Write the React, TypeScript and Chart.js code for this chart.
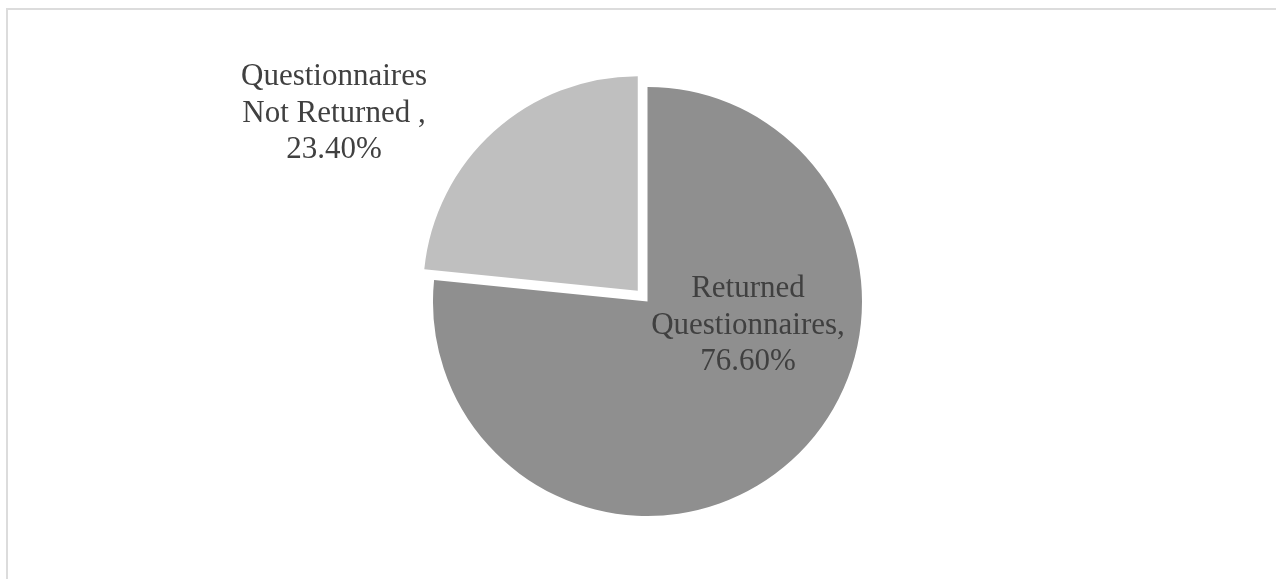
import React, { useEffect, useRef } from "react";
import { Chart, registerables } from "chart.js";

Chart.register(...registerables);

const categories = ["Returned Questionnaires", "Questionnaires Not Returned"];
const values = [76.6, 23.4];
const colors = ["#8f8f8f", "#bfbfbf"];
const explode = [0, 58];
const labelLines = [
  ["Returned", "Questionnaires,", "76.60%"],
  ["Questionnaires", "Not Returned ,", "23.40%"],
];
// label anchor relative to pie centre (x centre, first baseline)
const labelAnchors = [
  { dx: 100.5, dy: -4.5 },
  { dx: -313.5, dy: -216.5 },
];

const labelPlugin = {
  id: "sliceLabels",
  afterDatasetsDraw(chart: any) {
    const meta = chart.getDatasetMeta(0);
    const arc0 = meta.data[0];
    if (!arc0) return;
    const cx = arc0.x;
    const cy = arc0.y;
    const ctx = chart.ctx;
    ctx.save();
    ctx.font = "31px 'Liberation Serif', 'Times New Roman', serif";
    ctx.fillStyle = "#404040";
    ctx.textAlign = "center";
    ctx.textBaseline = "alphabetic";
    labelLines.forEach((lines, i) => {
      const a = labelAnchors[i];
      lines.forEach((t, j) => {
        ctx.fillText(t, cx + a.dx, cy + a.dy + j * 36.5);
      });
    });
    ctx.restore();
  },
};

export default function App() {
  const ref = useRef<HTMLCanvasElement | null>(null);
  useEffect(() => {
    if (!ref.current) return;
    const chart = new Chart(ref.current, {
      type: "pie",
      data: {
        labels: categories,
        datasets: [
          {
            data: values,
            backgroundColor: colors,
            borderWidth: 0,
            offset: explode,
          },
        ],
      },
      options: {
        responsive: false,
        animation: false,
        radius: 214.5,
        layout: { padding: { left: 19, right: 0, top: 24, bottom: 0 } },
        plugins: {
          legend: { display: false },
          tooltip: { enabled: false },
        },
      } as any,
      plugins: [labelPlugin],
    });
    return () => chart.destroy();
  }, []);
  return (
    <div
      style={{
        position: "fixed",
        left: 0,
        top: 0,
        width: 1276,
        height: 579,
        overflow: "hidden",
        background: "#ffffff",
      }}
    >
      <div
        style={{
          position: "absolute",
          left: 6,
          top: 8,
          width: 1400,
          height: 700,
          borderLeft: "2px solid #dcdcdc",
          borderTop: "2px solid #dcdcdc",
        }}
      />
      <canvas
        ref={ref}
        width={1276}
        height={579}
        style={{ position: "absolute", left: 0, top: 0, width: 1276, height: 579 }}
      />
    </div>
  );
}
